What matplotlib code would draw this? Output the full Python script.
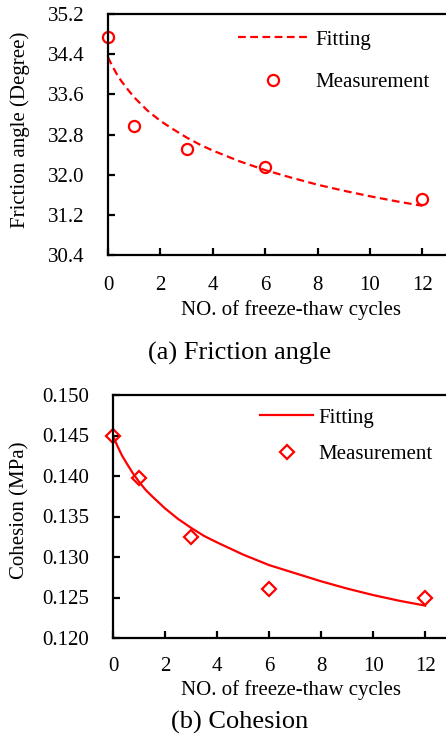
import numpy as np
import matplotlib
matplotlib.use('Agg')
import matplotlib.pyplot as plt

plt.rcParams['font.family'] = ['Liberation Serif', 'DejaVu Serif']

# Measured values
cycles = [0, 1, 3, 6, 12]
friction_meas = [34.75, 32.96, 32.52, 32.16, 31.51]
cohesion_meas = [0.1449, 0.1397, 0.1325, 0.1261, 0.1249]

# Fitted curves
fit_x = [0, 0.1, 0.2, 0.35, 0.5, 0.75, 1, 1.25, 1.5, 2, 2.5, 3, 3.5, 4, 5, 6, 7, 8, 9, 10, 11, 12]
friction_fit = [34.34, 34.23, 34.13, 33.99, 33.87, 33.70, 33.54, 33.41, 33.28, 33.07,
                32.90, 32.74, 32.60, 32.48, 32.27, 32.09, 31.94, 31.80, 31.68, 31.57,
                31.47, 31.38]
cohesion_fit = [0.1450, 0.1442, 0.1435, 0.1425, 0.1417, 0.1404, 0.1393, 0.1383,
                0.1375, 0.1360, 0.1347, 0.1336, 0.1326, 0.1318, 0.1303, 0.1290,
                0.1280, 0.1270, 0.1261, 0.1253, 0.1246, 0.1240]

x_ticks = [0, 2, 4, 6, 8, 10, 12]
friction_ticks = [30.4, 31.2, 32.0, 32.8, 33.6, 34.4, 35.2]
cohesion_ticks = [0.120, 0.125, 0.130, 0.135, 0.140, 0.145, 0.150]

W, H = 446, 740
fig = plt.figure(figsize=(W / 100, H / 100), dpi=100)


def style_axes(ax, xpad):
    for s in ['left', 'bottom', 'top']:
        ax.spines[s].set_linewidth(1.6)
    ax.spines['right'].set_visible(False)
    ax.tick_params(direction='in', length=5, width=1.6, top=False, right=False,
                   labelsize=15)
    ax.tick_params(axis='x', pad=xpad)
    ax.tick_params(axis='y', pad=17)
    ax.set_xticks(x_ticks)


# (a) Friction angle
ax1 = fig.add_axes([108 / W, 1 - 255 / H, 1 - 108 / W, (255 - 14) / H])
ax1.plot(fit_x, friction_fit, color='red', lw=1.6, ls=(0, (3.5, 2)), label='Fitting')
ax1.plot(cycles, friction_meas, 'o', mfc='none', mec='red', mew=1.6, ms=8,
         label='Measurement', clip_on=False)
ax1.set_xlim(0, 12.9)
ax1.set_ylim(30.4, 35.2)
ax1.set_yticks(friction_ticks)
ax1.set_yticklabels([f'{v:.1f}' for v in friction_ticks])
style_axes(ax1, 15)
ax1.legend(frameon=False, loc='upper left', bbox_to_anchor=(238 / W, 1 - 30 / H),
           bbox_transform=fig.transFigure, fontsize=15, handlelength=3.35,
           handletextpad=0.34, labelspacing=1.1, borderpad=0, borderaxespad=0)
fig.text(291 / W, 1 - 310 / H, 'NO. of freeze-thaw cycles', ha='center', va='center', fontsize=15)
fig.text(20 / W, 1 - 130 / H, 'Friction angle (Degree)', rotation=90,
         ha='center', va='center', fontsize=15)
fig.text(240 / W, 1 - 353 / H, '(a) Friction angle', ha='center', va='center', fontsize=19)

# (b) Cohesion
ax2 = fig.add_axes([113 / W, 1 - 638 / H, 1 - 113 / W, (638 - 395) / H])
ax2.plot(fit_x, cohesion_fit, color='red', lw=1.6, label='Fitting')
ax2.plot(cycles, cohesion_meas, 'D', mfc='none', mec='red', mew=1.6, ms=7,
         label='Measurement', clip_on=False)
ax2.set_xlim(0, 12.8)
ax2.set_ylim(0.120, 0.150)
ax2.set_yticks(cohesion_ticks)
ax2.set_yticklabels([f'{v:.3f}' for v in cohesion_ticks])
style_axes(ax2, 14)
ax2.legend(frameon=False, loc='upper left', bbox_to_anchor=(260 / W, 1 - 408 / H),
           bbox_transform=fig.transFigure, fontsize=15, handlelength=2.55,
           handletextpad=0.25, labelspacing=0.82, borderpad=0, borderaxespad=0)
fig.text(291 / W, 1 - 690 / H, 'NO. of freeze-thaw cycles', ha='center', va='center', fontsize=15)
fig.text(20 / W, 1 - 510 / H, 'Cohesion (MPa)', rotation=90,
         ha='center', va='center', fontsize=15)
fig.text(240 / W, 1 - 722 / H, '(b) Cohesion', ha='center', va='center', fontsize=19)

fig.savefig('out.png', dpi=100)
